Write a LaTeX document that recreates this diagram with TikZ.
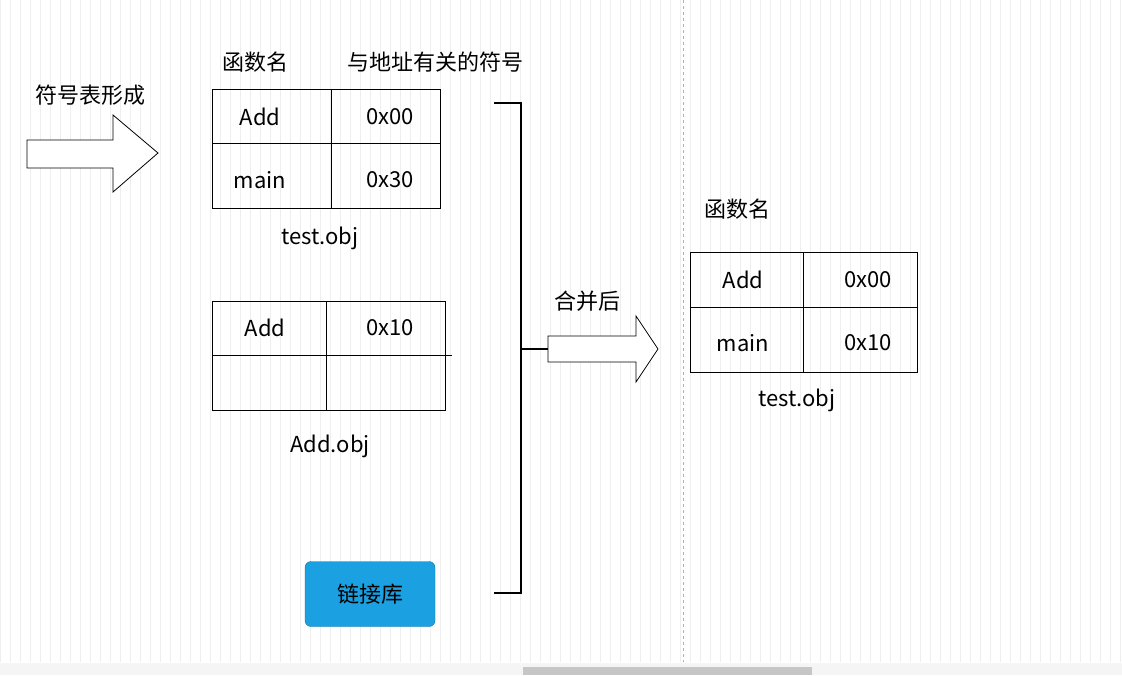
\documentclass[tikz,border=0pt]{standalone}
\usepackage{fontspec}
\setmainfont{Noto Sans CJK SC}
\usetikzlibrary{shapes.arrows}
\definecolor{gridc}{HTML}{EEEEEE}
\definecolor{btn}{HTML}{1BA1E2}
\tikzset{
  txt/.style={inner sep=0pt, font=\fontsize{22}{24}\selectfont},
  cell/.style={draw, line width=1pt},
  barrow/.style={draw, line width=0.8pt, fill=white},
}
\begin{document}
\begin{tikzpicture}[x=1pt,y=-1pt]
\useasboundingbox (0,0) rectangle (1122,675);
\draw[gridc, line width=0.5pt] (0,0) grid[step=10] (1122,662);
\draw[gray!60, dashed, line width=0.8pt] (683,0) -- (683,662);
\fill[gray!8] (0,663) rectangle (1122,675);
\fill[gray!45] (523,667) rectangle (812,675);

\node [txt] (t1) at (90,95) {符号表形成};
\draw [barrow] (27,140) -- (113,140) -- (113,115) -- (158,153) -- (113,192) -- (113,168) -- (27,168) -- cycle;

\node [txt] (h1) at (255,62) {函数名};
\node [txt] (h2) at (435,62) {与地址有关的符号};
\draw [cell] (212,89) rectangle (440,208);
\draw [cell] (331,89) -- (331,208);
\draw [cell] (212,143) -- (440,143);
\node [txt] (a1) at (260,117) {Add};
\node [txt] (a2) at (390,117) {0x00};
\node [txt] (a3) at (260,180) {main};
\node [txt] (a4) at (390,180) {0x30};
\node [txt] (n1) at (320,238) {test.obj};

\draw [cell] (212,301) rectangle (445,410);
\draw [cell] (326,301) -- (326,410);
\draw [cell] (212,355) -- (452,355);
\node [txt] (b1) at (265,328) {Add};
\node [txt] (b2) at (390,328) {0x10};
\node [txt] (n2) at (330,446) {Add.obj};

\node [draw=btn!70!black, fill=btn, rounded corners=6pt, minimum width=130pt, minimum height=65pt, txt] (lib) at (370,594) {链接库};

\coordinate (k1) at (494,103);
\coordinate (k2) at (494,593);
\coordinate (k3) at (548,349);
\draw [line width=1.6pt] (k1) -- (521,103) -- (521,593) -- (k2);
\draw [line width=1.6pt] (521,349) -- (k3);

\node [txt] (t2) at (587,301) {合并后};
\draw [barrow] (548,336) -- (636,336) -- (636,316) -- (658,349) -- (636,382) -- (636,362) -- (548,362) -- cycle;

\node [txt] (h3) at (737,209) {函数名};
\draw [cell] (690,252) rectangle (917,372);
\draw [cell] (803,252) -- (803,372);
\draw [cell] (690,307) -- (917,307);
\node [txt] (c1) at (743,280) {Add};
\node [txt] (c2) at (868,280) {0x00};
\node [txt] (c3) at (743,343) {main};
\node [txt] (c4) at (868,343) {0x10};
\node [txt] (n3) at (797,400) {test.obj};
\end{tikzpicture}
\end{document}
